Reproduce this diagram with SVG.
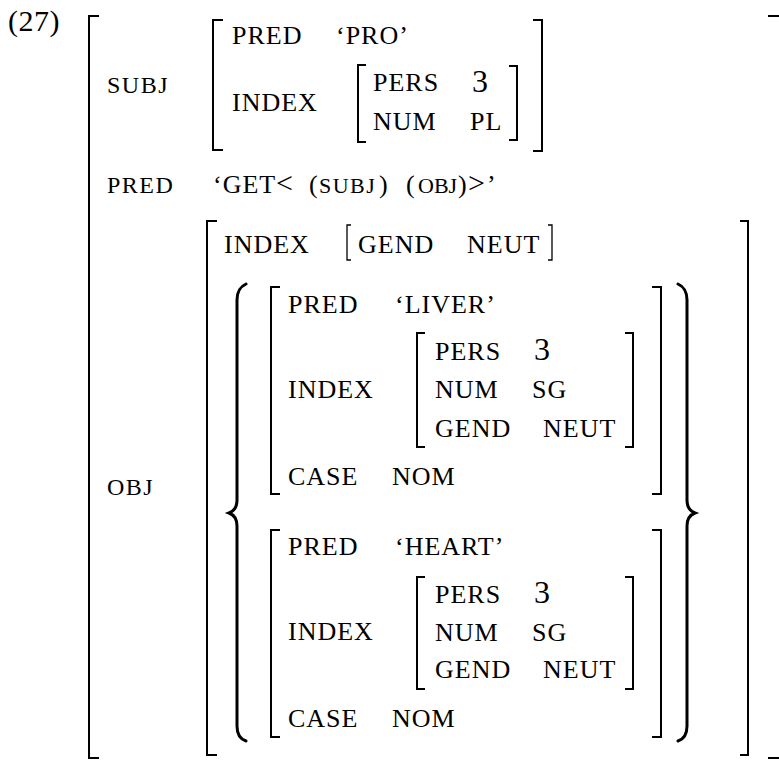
<svg xmlns="http://www.w3.org/2000/svg" width="779" height="760" viewBox="0 0 779 760">
<style>
text{font-family:"Liberation Serif","Times New Roman",serif;fill:#000}
.t{font-size:26px;letter-spacing:1px}
.s{font-size:24px;letter-spacing:1.5px}
.n{font-size:32px}
.br{fill:none;stroke:#000;stroke-width:2}
.thin{fill:none;stroke:#000;stroke-width:1.3}
.bc{fill:none;stroke:#000;stroke-width:3;stroke-linecap:round}
</style>
<rect width="779" height="760" fill="#fff"/>
<g id="example-number"><text x="8" y="31" style="font-size:30px;letter-spacing:0.5px">(27)</text></g>
<g id="outer-avm">
<path class="br" d="M99,16H89V758H99"/>
<path class="br" d="M768,16H780V758H768"/>
<text class="s" x="107" y="93">SUBJ</text>
<text class="s" x="107" y="193">PRED</text>
<text class="s" x="107" y="495">OBJ</text>
<text class="t" y="193"><tspan x="213">‘GET</tspan><tspan x="276" style="font-size:30px">&lt;</tspan><tspan x="309">(</tspan><tspan x="319" style="font-size:22px;letter-spacing:1.5px">SUBJ</tspan><tspan x="379">)</tspan><tspan x="406">(</tspan><tspan x="418" style="font-size:22px;letter-spacing:0">OBJ</tspan><tspan x="458">)</tspan><tspan x="468" style="font-size:30px">&gt;</tspan><tspan x="487">’</tspan></text>
</g>
<g id="subj-avm">
<path class="br" d="M223,20H213V150H223"/>
<path class="br" d="M533,20H542V151H533"/>
<text class="t" x="232" y="44">PRED</text>
<text class="t" x="336" y="44">‘PRO’</text>
<text class="t" x="232" y="111">INDEX</text>
</g>
<g id="subj-index">
<path class="br" d="M366,65H358V142H366"/>
<path class="br" d="M509,66H517V140H509"/>
<text class="t" x="373" y="91">PERS</text>
<text class="n" x="472" y="92">3</text>
<text class="t" x="373" y="130">NUM</text>
<text class="t" x="470" y="130">PL</text>
</g>
<g id="obj-avm">
<path class="br" d="M217,221H207V755H217"/>
<path class="br" d="M740,221H748V755H740"/>
<text class="t" x="224" y="253">INDEX</text>
</g>
<g id="obj-index">
<path class="thin" d="M351,225H347V260H351"/>
<path class="thin" d="M548,225H552V260H548"/>
<text class="t" x="358" y="253">GEND</text>
<text class="t" x="467" y="253">NEUT</text>
</g>
<g id="disjunction">
<path class="bc" d="M246,284Q237,288 237,300V500Q237,510 229,513Q237,516 237,526V726Q237,738 246,741"/>
<path class="bc" d="M678,284Q687,288 687,300V500Q687,510 695,513Q687,516 687,526V726Q687,738 678,741"/>
</g>
<g id="liver-avm">
<path class="br" d="M280,287H271V494H280"/>
<path class="br" d="M652,287H661V494H652"/>
<text class="t" x="288" y="313">PRED</text>
<text class="t" x="395" y="313">‘LIVER’</text>
<text class="t" x="288" y="398">INDEX</text>
<text class="t" x="288" y="485">CASE</text>
<text class="t" x="392" y="485">NOM</text>
</g>
<g id="liver-index">
<path class="br" d="M425,333H417V447H425"/>
<path class="br" d="M625,333H633V447H625"/>
<text class="t" x="435" y="360">PERS</text>
<text class="n" x="534" y="360">3</text>
<text class="t" x="435" y="398">NUM</text>
<text class="t" x="532" y="398">SG</text>
<text class="t" x="435" y="437">GEND</text>
<text class="t" x="543" y="437">NEUT</text>
</g>
<g id="heart-avm">
<path class="br" d="M280,530H271V737H280"/>
<path class="br" d="M652,530H661V737H652"/>
<text class="t" x="288" y="555">PRED</text>
<text class="t" x="395" y="555">‘HEART’</text>
<text class="t" x="288" y="640">INDEX</text>
<text class="t" x="288" y="727">CASE</text>
<text class="t" x="392" y="727">NOM</text>
</g>
<g id="heart-index">
<path class="br" d="M425,577H417V689H425"/>
<path class="br" d="M625,577H633V689H625"/>
<text class="t" x="435" y="603">PERS</text>
<text class="n" x="534" y="603">3</text>
<text class="t" x="435" y="641">NUM</text>
<text class="t" x="532" y="641">SG</text>
<text class="t" x="435" y="678">GEND</text>
<text class="t" x="543" y="678">NEUT</text>
</g>
<g id="connectors"></g>
</svg>
